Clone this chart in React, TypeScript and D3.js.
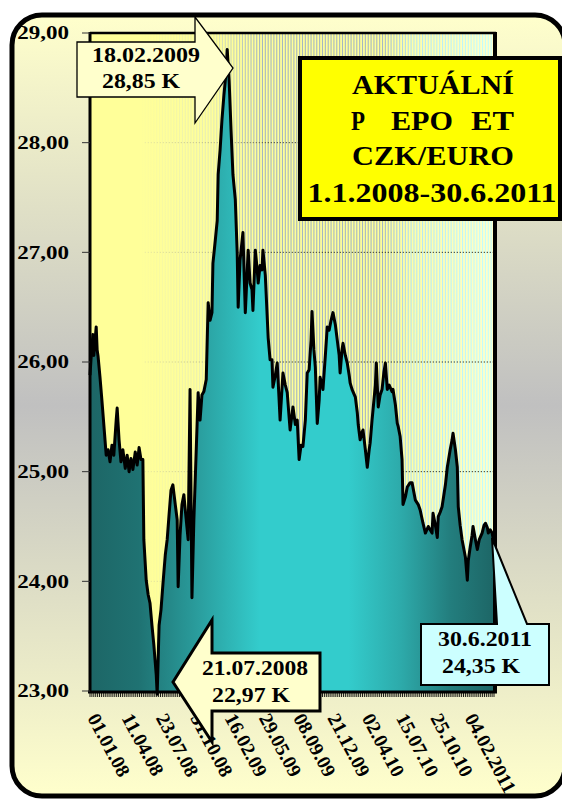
import React from 'react';
import * as d3 from 'd3';

// trading-day index (0 = 01.01.2008, 848 = 30.06.2011) and CZK/EUR rate
const dayIndex = [0,2,6,8,13,15,17,21,25,29,34,38,42,46,50,55,57,61,65,69,74,78,82,86,90,95,99,103,107,111,113,118,122,126,130,134,139,141,143,145,149,153,158,162,166,170,174,179,183,185,189,193,197,202,206,210,214,218,223,227,231,235,239,244,248,252,256,258,263,267,269,273,277,281,286,288,292,296,300,305,309,311,315,321,326,332,336,340,342,347,351,353,357,361,363,368,374,378,382,384,389,393,397,399,405,410,414,420,424,426,431,435,439,443,447,452,456,460,464,466,470,473,477,481,483,487,489,494,498,502,506,510,515,519,523,525,529,531,536,540,544,546,550,557,561,563,567,571,573,578,582,586,588,592,594,599,601,605,609,613,617,620,624,628,630,634,636,641,645,647,651,655,657,662,666,672,676,683,689,693,699,704,710,714,718,720,725,729,731,735,739,746,750,756,760,762,767,771,773,777,781,788,792,794,798,802,804,809,813,817,823,827,830,834,836,840,844,848];
const rate = [25.88,26.02,26.25,26.06,26.32,26.11,26.05,25.86,25.65,25.43,25.15,25.20,25.09,25.24,25.15,25.47,25.58,25.29,25.09,25.20,25.03,25.15,25.00,25.12,25.02,25.18,25.06,25.22,25.11,25.11,24.38,24.01,23.88,23.80,23.60,23.42,23.15,22.97,23.28,23.60,23.74,23.97,24.24,24.38,24.61,24.83,24.88,24.70,24.56,23.95,24.42,24.70,24.79,24.56,24.38,25.75,23.85,24.56,25.20,25.72,25.47,25.70,25.73,25.84,26.54,26.38,26.45,26.90,27.11,27.29,27.71,27.93,28.21,28.43,28.66,28.85,28.57,28.12,27.71,27.48,26.99,26.50,26.93,27.18,26.45,27.02,26.72,26.66,26.47,27.02,26.84,26.72,26.88,26.84,27.02,26.79,26.22,26.02,26.02,25.77,25.88,25.99,25.65,25.47,25.90,25.79,25.72,25.38,25.52,25.59,25.43,25.47,25.11,25.24,25.23,25.47,25.90,25.93,26.20,26.46,26.11,25.95,25.44,25.65,25.86,25.79,25.75,26.06,26.32,26.29,26.38,26.45,26.34,26.20,26.06,25.90,26.11,26.17,26.06,25.99,25.88,25.81,25.75,25.68,25.54,25.43,25.29,25.36,25.38,25.20,25.04,25.20,25.26,25.47,25.56,25.79,25.99,25.59,25.70,25.75,25.91,25.99,25.75,25.79,25.77,25.73,25.75,25.61,25.44,25.41,25.32,25.11,24.70,24.77,24.86,24.90,24.90,24.74,24.70,24.65,24.53,24.44,24.50,24.47,24.44,24.62,24.51,24.40,24.59,24.63,24.68,24.88,25.04,25.20,25.29,25.35,25.20,25.04,24.68,24.51,24.38,24.22,24.01,24.19,24.31,24.42,24.50,24.38,24.29,24.38,24.44,24.51,24.53,24.49,24.44,24.47,24.44,24.35];

const xTickLabels = ['01.01.08','11.04.08','23.07.08','31.10.08','16.02.09','29.05.09','08.09.09','21.12.09','02.04.10','15.07.10','25.10.10','04.02.2011'];
const yTicks = [23,24,25,26,27,28,29];
const TICK_STEP = 72;
const LAST_INDEX = 848;

const titleLines = ['AKTUÁLNÍ', 'CZK/EURO', '1.1.2008-30.6.2011'];
const titleGapped = ['P', 'EPO', 'ET'];
const maxNote = ['18.02.2009', '28,85 K'];
const minNote = ['21.07.2008', '22,97 K'];
const lastNote = ['30.6.2011', '24,35 K'];

const FONT = "'Liberation Serif', 'Times New Roman', serif";

export default function App() {
  const W = 562, H = 799;
  const left = 90, right = 494, top = 33, bottom = 691;
  const x = d3.scaleLinear().domain([0, LAST_INDEX]).range([left, right]);
  const y = d3.scaleLinear().domain([23, 29]).range([bottom, top]);
  const data = dayIndex.map((d, i) => ({ d, v: rate[i] }));
  const areaPath = d3.area<any>().x((p: any) => x(p.d)).y0(bottom).y1((p: any) => y(p.v))(data) || '';
  const linePath = d3.line<any>().x((p: any) => x(p.d)).y((p: any) => y(p.v))(data) || '';
  const stripes = d3.range(110, LAST_INDEX + 1, 6);
  const ruler = d3.range(0, LAST_INDEX + 1, 4);
  const xTicks = xTickLabels.map((l, i) => ({ l, i: i * TICK_STEP }));

  return (
    <svg width={W} height={H} style={{ position: 'absolute', left: 0, top: 0 }} fontFamily={FONT}>
      <defs>
        <linearGradient id="bg" x1="0" y1="0" x2="0" y2="1">
          <stop offset="0" stopColor="#FFFFCC" />
          <stop offset="0.5" stopColor="#C0C0C0" />
          <stop offset="1" stopColor="#FFFFCC" />
        </linearGradient>
        <linearGradient id="plotbg" gradientUnits="userSpaceOnUse" x1={left} x2={right} y1="0" y2="0">
          <stop offset="0" stopColor="#FFFF99" />
          <stop offset="0.72" stopColor="#FFFF99" />
          <stop offset="1" stopColor="#FFFFCC" />
        </linearGradient>
        <linearGradient id="stripe" gradientUnits="userSpaceOnUse" x1={left} x2={right} y1="0" y2="0">
          <stop offset="0.12" stopColor="#FFFF99" />
          <stop offset="0.3" stopColor="#E6EDB5" />
          <stop offset="0.42" stopColor="#A4B6C2" />
          <stop offset="0.72" stopColor="#A4B6C4" />
          <stop offset="0.8" stopColor="#B6E4F0" />
          <stop offset="1" stopColor="#C4FFFF" />
        </linearGradient>
        <linearGradient id="grid" gradientUnits="userSpaceOnUse" x1={left} x2={right} y1="0" y2="0">
          <stop offset="0.13" stopColor="#E8E8A0" />
          <stop offset="0.35" stopColor="#999980" />
          <stop offset="0.45" stopColor="#222" />
          <stop offset="1" stopColor="#000" />
        </linearGradient>
        <linearGradient id="fill" gradientUnits="userSpaceOnUse" x1={left} x2={right} y1="0" y2="0">
          <stop offset="0" stopColor="#1D6666" />
          <stop offset="0.12" stopColor="#1F7272" />
          <stop offset="0.27" stopColor="#2A9E9E" />
          <stop offset="0.42" stopColor="#33CCCC" />
          <stop offset="0.64" stopColor="#33CCCC" />
          <stop offset="0.77" stopColor="#2DAAAA" />
          <stop offset="0.89" stopColor="#237E7E" />
          <stop offset="1" stopColor="#1D6666" />
        </linearGradient>
      </defs>

      {/* outer frame */}
      <rect x={12} y={15} width={553} height={781} rx={30} ry={30} fill="url(#bg)" stroke="#000" strokeWidth={5} />

      {/* plot background */}
      <rect x={left} y={top} width={right - left} height={bottom - top} fill="url(#plotbg)" />
      {stripes.map(s => (
        <line key={s} x1={x(s)} x2={x(s)} y1={top} y2={bottom} stroke="url(#stripe)" strokeWidth={1.1} />
      ))}
      {yTicks.slice(1, -1).map(t => (
        <line key={t} x1={x(115)} x2={right} y1={y(t)} y2={y(t)} stroke="url(#grid)" strokeWidth={1} strokeDasharray="1 2" />
      ))}

      {/* area + line */}
      <path d={areaPath} fill="url(#fill)" />
      <path d={linePath} fill="none" stroke="#000" strokeWidth={3} strokeLinejoin="round" />

      {/* plot border */}
      <line x1={left} x2={left} y1={top - 1} y2={bottom} stroke="#000" strokeWidth={3} />
      <line x1={left} x2={right + 2} y1={top} y2={top} stroke="#000" strokeWidth={2.5} />
      <line x1={right + 1} x2={right + 1} y1={top - 1} y2={bottom} stroke="#000" strokeWidth={4} />

      {/* x axis */}
      {ruler.map(r => (
        <line key={r} x1={x(r)} x2={x(r)} y1={bottom} y2={bottom + 6} stroke="#000" strokeWidth={0.9} />
      ))}
      <line x1={left - 2} x2={right + 3} y1={bottom + 1} y2={bottom + 1} stroke="#000" strokeWidth={3} />
      {xTicks.map(t => (
        <text key={t.l} transform={`translate(${x(t.i) - 3},718) rotate(62)`} fontSize={19.5} fontWeight="bold" fill="#000">{t.l}</text>
      ))}

      {/* y axis */}
      {yTicks.map(t => (
        <g key={t}>
          <line x1={82} x2={left} y1={y(t)} y2={y(t)} stroke="#333" strokeWidth={1} />
          <text transform={`translate(69,${y(t)}) scale(1.28,1)`} textAnchor="end" dy="0.35em" fontSize={18} fontWeight="bold" fill="#000">
            {d3.format('.2f')(t).replace('.', ',')}
          </text>
        </g>
      ))}

      {/* title box */}
      <rect x={300} y={58} width={260} height={161} fill="#FFFF00" stroke="#000" strokeWidth={4} />
      <text x={433} y={94} textAnchor="middle" fontSize={27} fontWeight="bold" textLength={162} lengthAdjust="spacingAndGlyphs">{titleLines[0]}</text>
      <text y={130} fontSize={27} fontWeight="bold">
        <tspan x={351} textLength={14} lengthAdjust="spacingAndGlyphs">{titleGapped[0]}</tspan>
        <tspan x={391} textLength={62} lengthAdjust="spacingAndGlyphs">{titleGapped[1]}</tspan>
        <tspan x={471} textLength={43} lengthAdjust="spacingAndGlyphs">{titleGapped[2]}</tspan>
      </text>
      <text x={433} y={165} textAnchor="middle" fontSize={27} fontWeight="bold" textLength={162} lengthAdjust="spacingAndGlyphs">{titleLines[1]}</text>
      <text x={432} y={202} textAnchor="middle" fontSize={28} fontWeight="bold" textLength={249} lengthAdjust="spacingAndGlyphs">{titleLines[2]}</text>

      {/* max callout */}
      <path d="M77,42 L195,42 L195,17 L233,68 L195,123 L195,97 L77,97 Z" fill="#FFFFCC" stroke="#000" strokeWidth={1.3} />
      <text x={146} y={62} textAnchor="middle" fontSize={20} fontWeight="bold" textLength={108} lengthAdjust="spacingAndGlyphs">{maxNote[0]}</text>
      <text x={141} y={88} textAnchor="middle" fontSize={20} fontWeight="bold" textLength={78} lengthAdjust="spacingAndGlyphs">{maxNote[1]}</text>

      {/* min callout */}
      <path d="M173,682 L212,620 L212,653 L320,653 L320,711 L212,711 L212,742 Z" fill="#FFFFCC" stroke="#000" strokeWidth={3} strokeLinejoin="miter" />
      <text x={255} y={675} textAnchor="middle" fontSize={20} fontWeight="bold" textLength={106} lengthAdjust="spacingAndGlyphs">{minNote[0]}</text>
      <text x={251} y={702} textAnchor="middle" fontSize={20} fontWeight="bold" textLength={78} lengthAdjust="spacingAndGlyphs">{minNote[1]}</text>

      {/* last value callout */}
      <path d="M421,624 L497,624 L492,538 L527,624 L549,624 L549,685 L421,685 Z" fill="#CCFFFF" stroke="#000" strokeWidth={2} />
      <text x={485} y={646} textAnchor="middle" fontSize={20} fontWeight="bold" textLength={94} lengthAdjust="spacingAndGlyphs">{lastNote[0]}</text>
      <text x={481} y={673} textAnchor="middle" fontSize={20} fontWeight="bold" textLength={78} lengthAdjust="spacingAndGlyphs">{lastNote[1]}</text>
    </svg>
  );
}
